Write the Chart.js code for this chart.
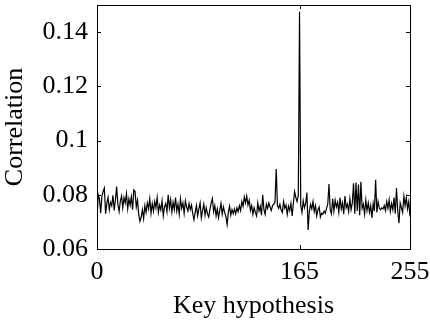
<!DOCTYPE html>
<html>
<head>
<meta charset="utf-8">
<script src="https://cdn.jsdelivr.net/npm/chart.js@4/dist/chart.umd.min.js"></script>
<style>
    html, body { margin: 0; padding: 0; background: #ffffff; }
    #wrap { width: 430px; height: 322px; }
</style>
</head>
<body>
<div id="wrap"><canvas id="corrChart" width="430" height="322"></canvas></div>
<script>

// ======================================
// Data
// ======================================

const X_TITLE = "Key hypothesis";
const Y_TITLE = "Correlation";

const X_TICKS = [0, 165, 255];
const Y_TICKS = [0.06, 0.08, 0.1, 0.12, 0.14];

const X_MIN = 0;
const X_MAX = 255;
const Y_MIN = 0.06;
const Y_MAX = 0.15;

// correlation per key hypothesis 0..255
const correlation = [
    0.0712, 0.0800, 0.0785, 0.0732, 0.0795, 0.0812, 0.0825, 0.0730, 0.0768, 0.0790, 0.0745, 0.0772, 0.0760, 0.0798, 0.0742, 0.0781,
    0.0830, 0.0765, 0.0738, 0.0776, 0.0795, 0.0752, 0.0789, 0.0770, 0.0804, 0.0748, 0.0785, 0.0762, 0.0793, 0.0745, 0.0818, 0.0812,
    0.0755, 0.0780, 0.0728, 0.0702, 0.0718, 0.0745, 0.0712, 0.0760, 0.0735, 0.0770, 0.0748, 0.0785, 0.0732, 0.0768, 0.0740, 0.0775,
    0.0752, 0.0790, 0.0735, 0.0762, 0.0744, 0.0778, 0.0722, 0.0756, 0.0768, 0.0738, 0.0800, 0.0750, 0.0782, 0.0736, 0.0772, 0.0745,
    0.0790, 0.0740, 0.0765, 0.0728, 0.0785, 0.0750, 0.0770, 0.0732, 0.0778, 0.0755, 0.0740, 0.0768, 0.0745, 0.0762, 0.0730, 0.0708,
    0.0735, 0.0760, 0.0722, 0.0748, 0.0770, 0.0715, 0.0742, 0.0765, 0.0725, 0.0752, 0.0730, 0.0718, 0.0745, 0.0770, 0.0786, 0.0738,
    0.0760, 0.0722, 0.0748, 0.0715, 0.0742, 0.0768, 0.0728, 0.0755, 0.0735, 0.0720, 0.0690, 0.0735, 0.0758, 0.0725, 0.0745, 0.0730,
    0.0748, 0.0730, 0.0752, 0.0738, 0.0760, 0.0742, 0.0775, 0.0758, 0.0792, 0.0770, 0.0795, 0.0762, 0.0780, 0.0742, 0.0760, 0.0728,
    0.0752, 0.0735, 0.0722, 0.0770, 0.0740, 0.0758, 0.0725, 0.0800, 0.0745, 0.0728, 0.0765, 0.0750, 0.0770, 0.0755, 0.0742, 0.0760,
    0.0765, 0.0772, 0.0895, 0.0760, 0.0750, 0.0765, 0.0745, 0.0735, 0.0775, 0.0750, 0.0762, 0.0728, 0.0758, 0.0742, 0.0768, 0.0722,
    0.0770, 0.0812, 0.0790, 0.0775, 0.0798, 0.1475, 0.0760, 0.0735, 0.0778, 0.0752, 0.0768, 0.0808, 0.0670, 0.0740, 0.0765, 0.0748,
    0.0775, 0.0738, 0.0760, 0.0722, 0.0745, 0.0755, 0.0718, 0.0732, 0.0728, 0.0740, 0.0732, 0.0750, 0.0765, 0.0840, 0.0745, 0.0730,
    0.0785, 0.0740, 0.0780, 0.0755, 0.0772, 0.0735, 0.0790, 0.0748, 0.0770, 0.0728, 0.0795, 0.0752, 0.0765, 0.0738, 0.0785, 0.0745,
    0.0770, 0.0842, 0.0730, 0.0845, 0.0740, 0.0838, 0.0725, 0.0848, 0.0750, 0.0765, 0.0728, 0.0780, 0.0742, 0.0770, 0.0735, 0.0760,
    0.0715, 0.0768, 0.0740, 0.0855, 0.0735, 0.0775, 0.0750, 0.0745, 0.0752, 0.0748, 0.0760, 0.0742, 0.0775, 0.0750, 0.0782, 0.0738,
    0.0768, 0.0745, 0.0790, 0.0730, 0.0825, 0.0742, 0.0695, 0.0770, 0.0752, 0.0735, 0.0795, 0.0760, 0.0790, 0.0748, 0.0775, 0.0720
];

// ======================================
// Plugins
// ======================================

// box round the plot and short inward ticks, matlab style
const boxTicksPlugin = {

    id: "boxTicks",

    afterDraw(chart) {

        const ctx = chart.ctx;
        const area = chart.chartArea;
        const xs = chart.scales.x;
        const ys = chart.scales.y;
        const len = 4;

        ctx.save();
        ctx.strokeStyle = "#000000";
        ctx.lineWidth = 1;

        ctx.strokeRect(
            Math.round(area.left) + 0.5,
            Math.round(area.top) + 0.5,
            Math.round(area.right - area.left),
            Math.round(area.bottom - area.top)
        );

        ctx.beginPath();

        X_TICKS.forEach(function (v) {
            const px = Math.round(xs.getPixelForValue(v)) + 0.5;
            ctx.moveTo(px, area.bottom);
            ctx.lineTo(px, area.bottom - len);
            ctx.moveTo(px, area.top);
            ctx.lineTo(px, area.top + len);
        });

        Y_TICKS.forEach(function (v) {
            const py = Math.round(ys.getPixelForValue(v)) + 0.5;
            ctx.moveTo(area.left, py);
            ctx.lineTo(area.left + len, py);
            ctx.moveTo(area.right, py);
            ctx.lineTo(area.right - len, py);
        });

        ctx.stroke();
        ctx.restore();

    }

};

// no extra room for half-labels at the ends of the axes
function dropEdgePadding(scale) {

    scale.paddingTop = 0;
    scale.paddingBottom = 0;
    scale.paddingLeft = 0;
    scale.paddingRight = 0;

}

// ======================================
// Chart
// ======================================

const FONT = { family: "'Liberation Serif', 'DejaVu Serif', serif", size: 26 };

const points = correlation.map(function (v, i) {
    return { x: i, y: v };
});

new Chart(document.getElementById("corrChart"), {

    type: "line",

    data: {
        datasets: [{
            data: points,
            borderColor: "#000000",
            borderWidth: 1.2,
            pointRadius: 0,
            tension: 0,
            fill: false
        }]
    },

    options: {

        responsive: false,
        animation: false,
        events: [],

        layout: {
            padding: { left: 0, right: 20, top: 5, bottom: 0 }
        },

        plugins: {
            legend: { display: false },
            tooltip: { enabled: false }
        },

        scales: {

            x: {
                type: "linear",
                min: X_MIN,
                max: X_MAX,
                grid: { display: false, drawTicks: false },
                border: { display: false },
                afterBuildTicks: function (scale) {
                    scale.ticks = X_TICKS.map(function (v) { return { value: v }; });
                },
                afterFit: function (scale) {
                    scale.height = 73;
                    dropEdgePadding(scale);
                },
                ticks: {
                    color: "#000000",
                    font: FONT,
                    padding: 8,
                    maxRotation: 0,
                    autoSkip: false,
                    callback: function (v) { return String(v); }
                },
                title: {
                    display: true,
                    text: X_TITLE,
                    color: "#000000",
                    font: FONT,
                    padding: { top: 0, bottom: 0 }
                }
            },

            y: {
                type: "linear",
                min: Y_MIN,
                max: Y_MAX,
                grid: { display: false, drawTicks: false },
                border: { display: false },
                afterBuildTicks: function (scale) {
                    scale.ticks = Y_TICKS.map(function (v) { return { value: v }; });
                },
                afterFit: function (scale) {
                    scale.width = 97;
                    dropEdgePadding(scale);
                },
                ticks: {
                    color: "#000000",
                    font: FONT,
                    padding: 9,
                    autoSkip: false,
                    callback: function (v) { return String(v); }
                },
                title: {
                    display: true,
                    text: Y_TITLE,
                    color: "#000000",
                    font: FONT,
                    padding: { top: 0, bottom: 0 }
                }
            }
        }
    },

    plugins: [boxTicksPlugin]

});

</script>
</body>
</html>
